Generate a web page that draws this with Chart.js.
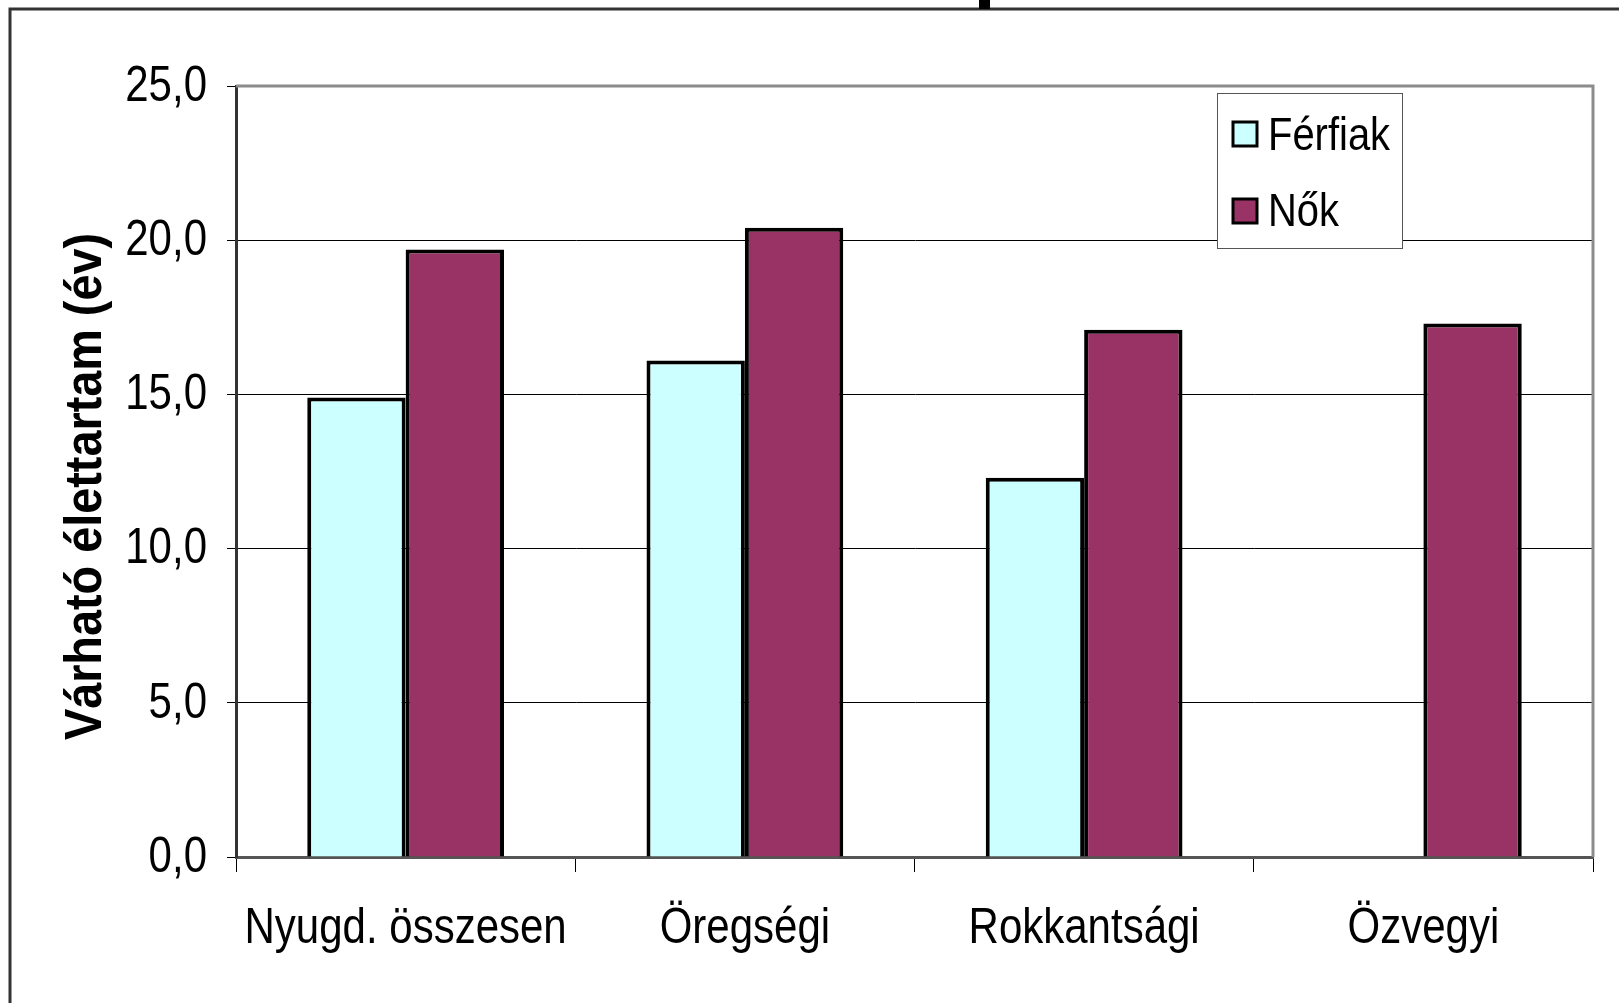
<!DOCTYPE html>
<html>
<head>
<meta charset="utf-8">
<script src="https://cdn.jsdelivr.net/npm/chart.js@4"></script>
<style>
  body { margin: 0; background: #fff; }
  canvas { display: block; }
</style>
</head>
<body>
<canvas id="myChart" width="1619" height="1003"></canvas>
<script>
const labels = ["Nyugd. összesen", "Öregségi", "Rokkantsági", "Özvegyi"];
const ferfiak = [14.9, 16.1, 12.3, null];
const nok = [19.7, 20.4, 17.1, 17.3];
const yTicks = [0, 5, 10, 15, 20, 25];
const yTitle = "Várható élettartam (év)";

const FONT = "'Liberation Sans', Arial, sans-serif";
const SQUEEZE = 0.84;   // a feliratok keskenyitett betuje

// keskenyitett szoveg rajzolasa
function narrowText(ctx, text, x, y, align, squeeze) {
    ctx.save();
    ctx.translate(x, y);
    ctx.scale(squeeze, 1);
    ctx.textAlign = align;
    ctx.fillText(text, 0, 0);
    ctx.restore();
}

// keret, plot terulet szegely, levagott cim maradvany
const framePlugin = {
    id: "frame",
    beforeDraw(chart) {
        const ctx = chart.ctx;
        ctx.save();
        ctx.fillStyle = "#fff";
        ctx.fillRect(0, 0, chart.width, chart.height);
        ctx.restore();
    },
    afterDatasetsDraw(chart) {
        const {ctx, chartArea} = chart;
        ctx.save();
        ctx.strokeStyle = "#8c8c8c";
        ctx.lineWidth = 3;
        ctx.beginPath();
        ctx.moveTo(chartArea.left, chartArea.top);
        ctx.lineTo(chartArea.right, chartArea.top);
        ctx.lineTo(chartArea.right, chartArea.bottom);
        ctx.stroke();
        ctx.restore();
    },
    afterDraw(chart) {
        const ctx = chart.ctx;
        ctx.save();
        ctx.strokeStyle = "#333";
        ctx.lineWidth = 3;
        ctx.beginPath();
        ctx.moveTo(10, chart.height);
        ctx.lineTo(10, 9);
        ctx.lineTo(chart.width, 9);
        ctx.stroke();
        ctx.fillStyle = "#000";
        ctx.fillRect(979, 0, 11, 9);
        ctx.restore();
    }
};

// tengelyfeliratok a skalak poziciojaval
const labelPlugin = {
    id: "axisLabels",
    afterDraw(chart) {
        const ctx = chart.ctx;
        const xs = chart.scales.x, ys = chart.scales.y;
        ctx.save();
        ctx.fillStyle = "#000";
        ctx.font = "50px " + FONT;
        ctx.textBaseline = "alphabetic";
        chart.data.labels.forEach((lab, i) => {
            narrowText(ctx, lab, xs.getPixelForTick(i), 943, "center", SQUEEZE);
        });
        ctx.textBaseline = "middle";
        ys.ticks.forEach(t => {
            const txt = t.value.toFixed(1).replace(".", ",");
            narrowText(ctx, txt, 207, ys.getPixelForValue(t.value) + 1, "right", SQUEEZE);
        });
        // y tengely cime
        ctx.font = "bold 52px " + FONT;
        ctx.textBaseline = "alphabetic";
        ctx.translate(101, (chart.chartArea.top + chart.chartArea.bottom) / 2 + 15);
        ctx.rotate(-Math.PI / 2);
        ctx.scale(0.9, 1);
        ctx.textAlign = "center";
        ctx.fillText(yTitle, 0, 0);
        ctx.restore();
    }
};

// jelmagyarazat doboz a plot teruleten belul
const legendPlugin = {
    id: "boxLegend",
    afterDraw(chart) {
        const ctx = chart.ctx;
        const x = 1217, y = 93, w = 185, h = 155;
        ctx.save();
        ctx.fillStyle = "#fff";
        ctx.fillRect(x, y, w, h);
        ctx.strokeStyle = "#555";
        ctx.lineWidth = 1;
        ctx.strokeRect(x + 0.5, y + 0.5, w, h);
        ctx.font = "47px " + FONT;
        ctx.textBaseline = "alphabetic";
        chart.data.datasets.forEach((ds, i) => {
            const cy = 134 + i * 77;
            ctx.fillStyle = ds.backgroundColor;
            ctx.fillRect(1233, cy - 12, 24, 24);
            ctx.strokeStyle = "#000";
            ctx.lineWidth = 3;
            ctx.strokeRect(1233, cy - 12, 24, 24);
            ctx.fillStyle = "#000";
            narrowText(ctx, ds.label, 1268, 150 + i * 76, "left", 0.85);
        });
        ctx.restore();
    }
};

const data = {
    labels,
    datasets: [{
        label: "Férfiak",
        data: ferfiak,
        backgroundColor: "#CCFFFF",
        borderColor: "#000",
        borderWidth: 4,
    }, {
        label: "Nők",
        data: nok,
        backgroundColor: "#993366",
        borderColor: "#000",
        borderWidth: 4,
    }]
};

const config = {
    type: "bar",
    data: data,
    options: {
        responsive: false,
        devicePixelRatio: 1,
        animation: false,
        categoryPercentage: 0.58,
        barPercentage: 1,
        layout: {
            padding: {top: 86, right: 26, left: 0, bottom: 0}
        },
        scales: {
            x: {
                grid: {
                    offset: true,
                    drawOnChartArea: false,
                    tickLength: 15,
                    color: "#000",
                    lineWidth: 1
                },
                border: {color: "#555", width: 3},
                ticks: {display: false, autoSkip: false},
                afterFit(scale) { scale.height = 146; }
            },
            y: {
                min: 0,
                max: 25,
                afterBuildTicks(scale) {
                    scale.ticks = yTicks.map(v => ({value: v}));
                },
                grid: {
                    color: "#000",
                    lineWidth: 1,
                    tickLength: 9
                },
                border: {color: "#333", width: 3},
                ticks: {display: false},
                afterFit(scale) { scale.width = 236; }
            }
        },
        plugins: {
            legend: {display: false},
            tooltip: {enabled: false}
        },
        hover: {mode: null}
    },
    plugins: [framePlugin, labelPlugin, legendPlugin]
};

const myChart = new Chart(document.getElementById("myChart"), config);
</script>
</body>
</html>
